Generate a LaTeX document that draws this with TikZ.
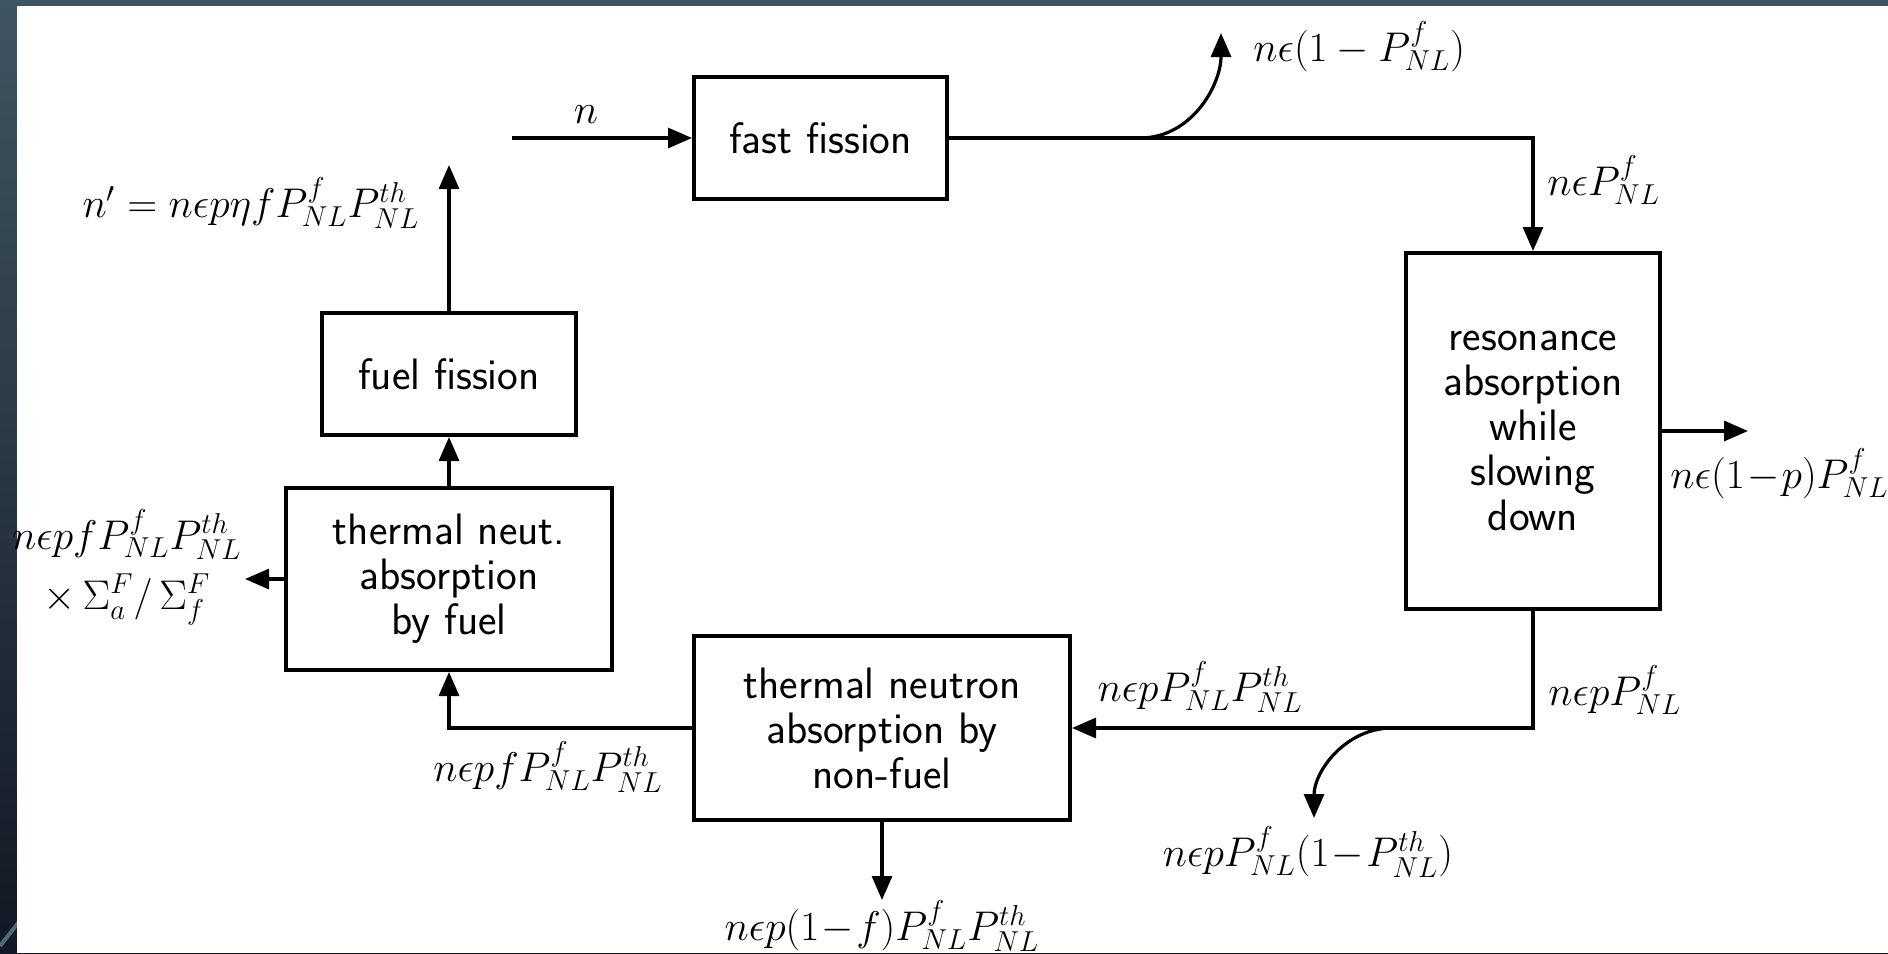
\documentclass[tikz,border=0pt]{standalone}
\usepackage{fontspec}
\usetikzlibrary{arrows.meta}
\definecolor{slatetop}{HTML}{3F5561}
\definecolor{slatebot}{HTML}{121824}
\definecolor{slateline}{HTML}{4E6A75}
\begin{document}
\begin{tikzpicture}[x=0.5pt,y=-0.5pt,
  box/.style={draw=black,line width=2pt,inner sep=0pt,align=center,
    font=\sffamily\fontsize{22}{22.5}\selectfont},
  flow/.style={line width=1.6pt,-{Triangle[length=12pt,width=10pt]}},
  lab/.style={inner sep=0pt,font=\fontsize{21}{25}\selectfont}]
\useasboundingbox (0,0) rectangle (1888,953);
% slide background
\shade[top color=slatetop,bottom color=slatebot] (0,0) rectangle (1888,953);
\draw[slateline,line width=2pt] (0,946) -- (22,918);
\fill[white] (17,6) rectangle (1888,953);

% boxes
\node[box,minimum width=126.5pt,minimum height=61pt] (fast) at (820.5,138) {fast fission};
\node[box,minimum width=127pt,minimum height=61pt] (fuelfis) at (449,374) {fuel fission};
\node[box,minimum width=163pt,minimum height=91pt] (thermfuel) at (449,579) {thermal neut.\\absorption\\by fuel};
\node[box,minimum width=188pt,minimum height=92pt] (nonfuel) at (882,728) {thermal neutron\\absorption by\\non-fuel};
\node[box,minimum width=127pt,minimum height=178pt] (reson) at (1533,431) {resonance\\absorption\\while\\slowing\\down};

% free ends
\coordinate (nin) at (512,138);
\coordinate (nout) at (449,165);
\coordinate (lossfuel) at (245,579);
\coordinate (nfout) at (882,900);
\coordinate (rout) at (1748,431);
\coordinate (b1) at (1140,138);
\coordinate (b1end) at (1221,33);
\coordinate (b2) at (1392,728);
\coordinate (b2end) at (1314,818);

% connectors
\draw[flow] (nin) -- (fast.west);
\draw[flow] (fast.east) -- (reson.north |- fast.east) -- (reson.north);
\draw[flow] (b1) to[out=0,in=-90] (b1end);
\draw[flow] (reson.east) -- (rout);
\draw[flow] (reson.south) -- (reson.south |- nonfuel.east) -- (nonfuel.east);
\draw[flow] (b2) to[out=180,in=90] (b2end);
\draw[flow] (nonfuel.south) -- (nfout);
\draw[flow] (nonfuel.west) -- (thermfuel.south |- nonfuel.west) -- (thermfuel.south);
\draw[flow] (thermfuel.west) -- (lossfuel);
\draw[flow] (thermfuel.north) -- (fuelfis.south);
\draw[flow] (fuelfis.north) -- (nout);

% labels
\node[lab] (nlab) at (586,115) {$n$};
\node[lab,anchor=east,font=\fontsize{22}{25}\selectfont] (nplab) at (420,203) {$n' = n\epsilon p\eta f P_{NL}^{f}P_{NL}^{th}$};
\node[lab,anchor=east,align=center,font=\fontsize{21.5}{30}\selectfont] (fuellab) at (242,567) {$n\epsilon pfP_{NL}^{f}P_{NL}^{th}$\\$\times\,\Sigma_a^F/\,\Sigma_f^F$};
\node[lab] (l1) at (548,767) {$n\epsilon pfP_{NL}^{f}P_{NL}^{th}$};
\node[lab] (l2) at (882,926) {$n\epsilon p(1\!-\!f)P_{NL}^{f}P_{NL}^{th}$};
\node[lab,anchor=west] (l3) at (1253,47) {$n\epsilon(1-P_{NL}^{f})$};
\node[lab,anchor=west] (l4) at (1547,180) {$n\epsilon P_{NL}^{f}$};
\node[lab,anchor=west,font=\fontsize{22}{25}\selectfont] (l5) at (1670,474) {$n\epsilon(1\!-\!p)P_{NL}^{f}$};
\node[lab,anchor=west] (l6) at (1548,690) {$n\epsilon pP_{NL}^{f}$};
\node[lab] (l7) at (1200,687) {$n\epsilon pP_{NL}^{f}P_{NL}^{th}$};
\node[lab] (l8) at (1308,852) {$n\epsilon pP_{NL}^{f}(1\!-\!P_{NL}^{th})$};
\end{tikzpicture}
\end{document}
